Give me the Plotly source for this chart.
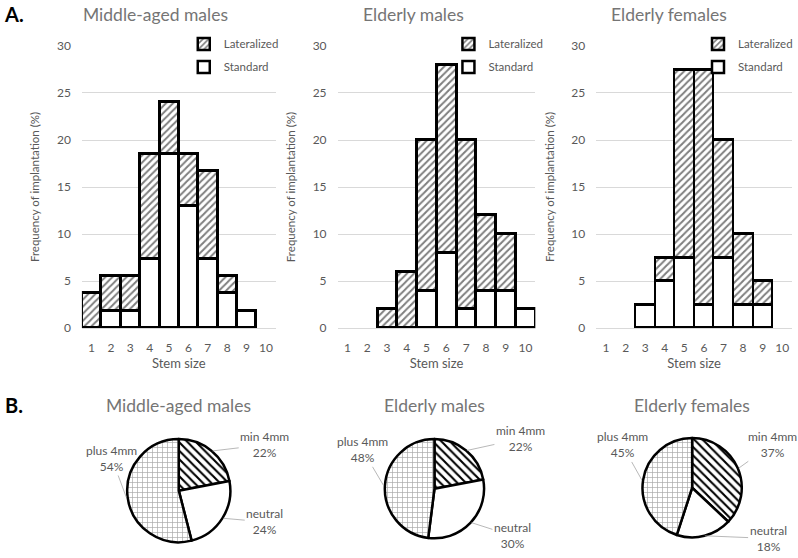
import math
import plotly.graph_objects as go

# ---------------- data ----------------
sizes = list(range(1, 11))
tick_labels = [str(s) for s in sizes]

mam_standard = [0, 1.85, 1.85, 7.4, 18.5, 13.0, 7.4, 3.7, 1.85, 0]
mam_lateral = [3.7, 3.7, 3.7, 11.1, 5.6, 5.5, 9.3, 1.85, 0, 0]

em_standard = [0, 0, 0, 0, 4, 8, 2, 4, 4, 2]
em_lateral = [0, 0, 2, 6, 16, 20, 18, 8, 6, 0]

ef_standard = [0, 0, 2.5, 5, 7.5, 2.5, 7.5, 2.5, 2.5, 0]
ef_lateral = [0, 0, 0, 2.5, 20, 25, 12.5, 7.5, 2.5, 0]

group_names = ["Middle-aged males", "Elderly males", "Elderly females"]

pie_labels = ["min 4mm", "neutral", "plus 4mm"]
mam_pie = [22, 24, 54]
em_pie = [22, 30, 48]
ef_pie = [37, 18, 45]

# ---------------- layout helpers ----------------
W, H = 798, 558
GRAY = "#595959"
TGRAY = "#757575"
GRID = "#d9d9d9"
FONT = "Lato"


def px(x):
    return x / W


def py(y):
    return 1 - y / H


def nz(vals):
    return [v if v else None for v in vals]


fig = go.Figure()

bar_panels = [
    (mam_standard, mam_lateral, (82, 276), 156, 184),
    (em_standard, em_lateral, (338, 536), 414, 449),
    (ef_standard, ef_lateral, (597, 793), 670, 699),
]

layout_extra = {}
annotations = []

for i, (std, lat, (x0, x1), tcx, legx) in enumerate(bar_panels):
    sfx = "" if i == 0 else str(i + 1)
    leg = "legend" if i == 0 else f"legend{i + 1}"
    fig.add_trace(go.Bar(
        x=sizes, y=nz(std), name="Standard", width=1,
        xaxis="x" + sfx, yaxis="y" + sfx, legend=leg, legendgroup=f"s{i}",
        legendrank=2,
        marker=dict(color="white", line=dict(color="black", width=2.5)),
        hoverinfo="skip",
    ))
    fig.add_trace(go.Bar(
        x=sizes, y=nz(lat), name="Lateralized", width=1,
        xaxis="x" + sfx, yaxis="y" + sfx, legend=leg, legendgroup=f"l{i}",
        legendrank=1,
        marker=dict(color="white", line=dict(color="black", width=2.5),
                    pattern=dict(shape="/", fgcolor="black", bgcolor="white",
                                 size=5, solidity=0.4)),
        hoverinfo="skip",
    ))
    layout_extra["xaxis" + sfx] = dict(
        domain=[px(x0), px(x1)], anchor="y" + sfx, range=[0.5, 10.5],
        tickvals=sizes, ticktext=tick_labels, showgrid=False, zeroline=False,
        showline=True, linecolor=GRID, linewidth=1, ticks="",
        ticklabelstandoff=8,
        tickfont=dict(size=12, color=GRAY, family=FONT),
        title=dict(text="Stem size", font=dict(size=13, color=GRAY, family=FONT), standoff=4),
    )
    layout_extra["yaxis" + sfx] = dict(
        domain=[py(329), py(39)], anchor="x" + sfx, range=[0, 30], dtick=5,
        showgrid=True, gridcolor=GRID, gridwidth=1, zeroline=False, showline=False,
        ticks="", ticklabelstandoff=10,
        tickfont=dict(size=12, color=GRAY, family=FONT),
        title=dict(text="Frequency of implantation (%)",
                   font=dict(size=11.5, color=GRAY, family=FONT), standoff=14),
    )
    layout_extra[leg] = dict(
        x=px(legx), y=py(22), xanchor="left", yanchor="top",
        bgcolor="rgba(0,0,0,0)", font=dict(size=11.5, color=GRAY, family=FONT),
        traceorder="grouped", tracegroupgap=4, itemwidth=30,
    )
    annotations.append(dict(
        text=group_names[i], x=px(tcx), y=py(7), xref="paper", yref="paper",
        showarrow=False, font=dict(size=17.5, color=TGRAY, family=FONT),
        xanchor="center", yanchor="middle",
    ))

# ---------------- pies ----------------
pie_panels = [
    (mam_pie, (179, 496), 53, 408, [(265, 449), (265, 528), (112, 464)]),
    (em_pie, (435, 494), 51, 408, [(521, 443), (513, 542), (363, 455)]),
    (ef_pie, (693, 493), 51, 408, [(773, 449), (769, 545), (623, 450)]),
]

for i, (vals, (cx, cy), r, ty, label_pos) in enumerate(pie_panels):
    fig.add_trace(go.Pie(
        values=vals, labels=pie_labels, sort=False, direction="clockwise",
        rotation=0, textinfo="none", showlegend=False, hoverinfo="skip",
        domain=dict(x=[px(cx - r), px(cx + r)], y=[py(cy + r), py(cy - r)]),
        marker=dict(
            colors=["white", "white", "white"],
            line=dict(color="black", width=2.5),
            pattern=dict(shape=["\\", "", "+"],
                         fgcolor=["black", "black", "#a6a6a6"],
                         bgcolor=["white", "white", "white"],
                         size=[6, 6, 5], solidity=[0.35, 0.3, 0.25]),
        ),
    ))
    annotations.append(dict(
        text=group_names[i], x=px(cx), y=py(ty), xref="paper", yref="paper",
        showarrow=False, font=dict(size=17.5, color=TGRAY, family=FONT),
        xanchor="center", yanchor="middle",
    ))
    total = sum(vals)
    cum = 0
    for lab, v, (lx, ly) in zip(pie_labels, vals, label_pos):
        theta = math.radians((cum + v / 2) / total * 360)
        cum += v
        tx = cx + r * math.sin(theta)
        ty2 = cy - r * math.cos(theta)
        annotations.append(dict(
            text=f"{lab}<br>{round(v / total * 100)}%",
            x=px(tx), y=py(ty2), xref="paper", yref="paper",
            ax=lx - tx, ay=ly - ty2, axref="pixel", ayref="pixel",
            showarrow=True, arrowhead=0, arrowwidth=0.8, arrowcolor="#a6a6a6",
            standoff=0, startstandoff=0,
            font=dict(size=12, color=GRAY, family=FONT), align="center",
        ))

annotations.append(dict(text="<b>A.</b>", x=px(2), y=py(6), xref="paper", yref="paper",
                        showarrow=False, xanchor="left", yanchor="middle",
                        font=dict(size=20, color="black", family=FONT)))
annotations.append(dict(text="<b>B.</b>", x=px(3), y=py(408), xref="paper", yref="paper",
                        showarrow=False, xanchor="left", yanchor="middle",
                        font=dict(size=20, color="black", family=FONT)))

fig.update_layout(
    width=W, height=H, margin=dict(l=0, r=0, t=0, b=0),
    paper_bgcolor="white", plot_bgcolor="white",
    barmode="stack", bargap=0,
    font=dict(family=FONT, color=GRAY),
    annotations=annotations,
    **layout_extra,
)

fig.write_html("out.html")
